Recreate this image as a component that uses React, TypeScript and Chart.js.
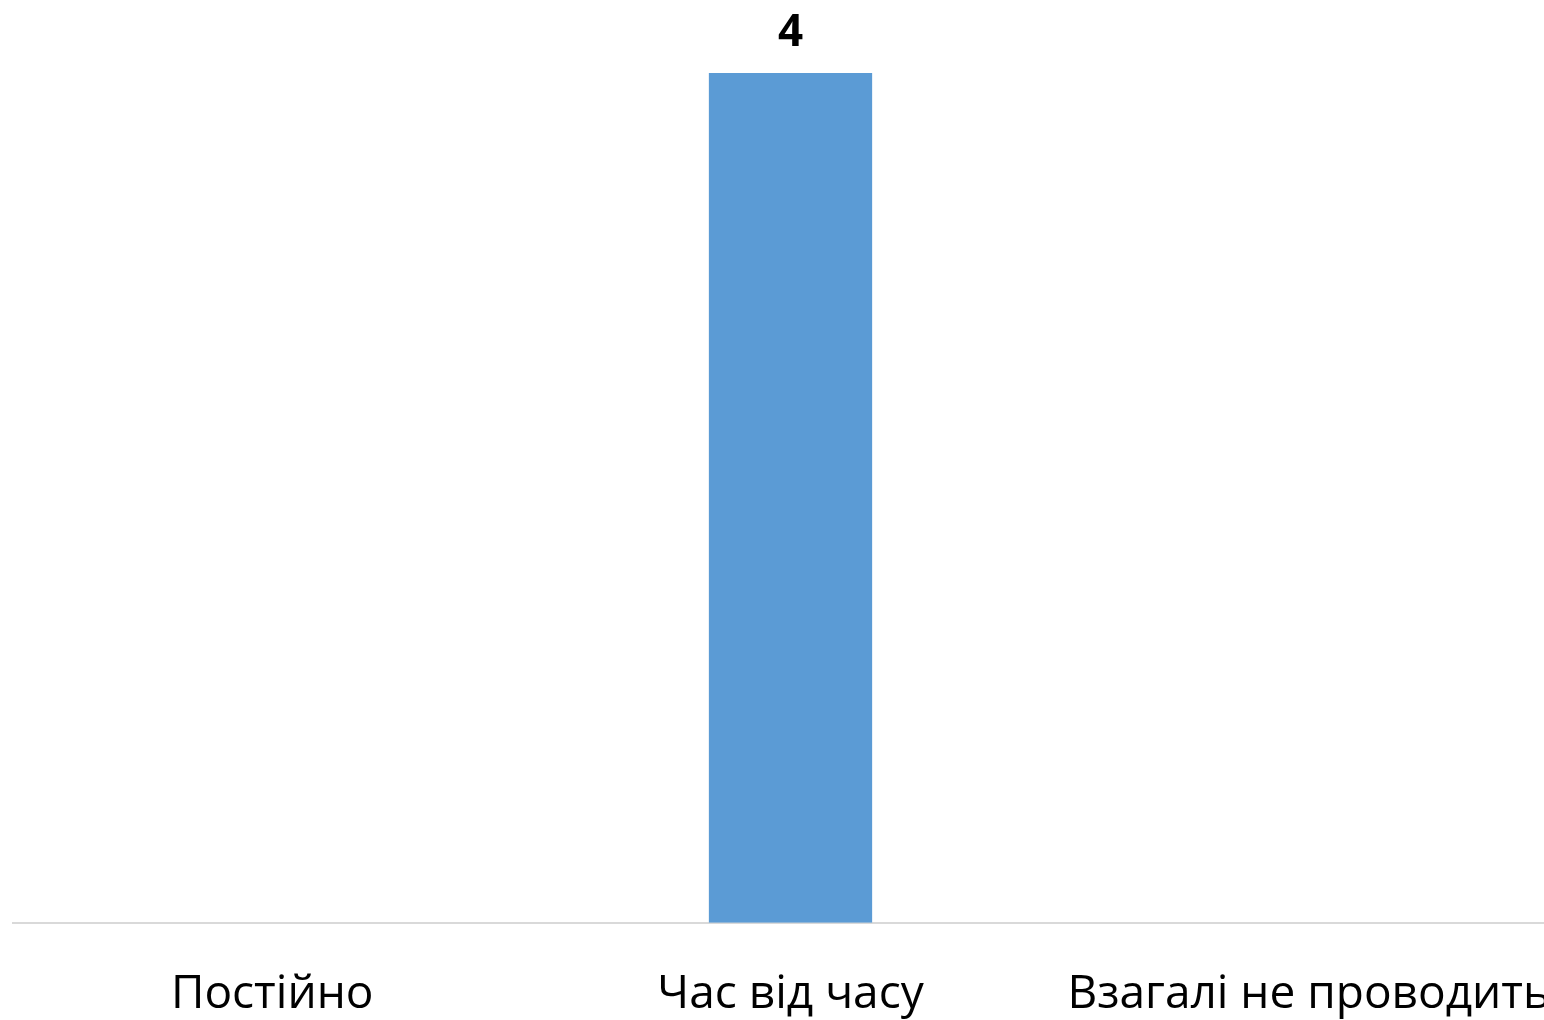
import React, { useEffect, useRef } from "react";
import { Chart, registerables } from "chart.js";

Chart.register(...registerables);

const categories = ["Постійно", "Час від часу", "Взагалі не проводить"];
const values: (number | null)[] = [null, 4, null];

const valueLabelPlugin = {
  id: "valueLabels",
  afterDatasetsDraw(chart: any) {
    const ctx = chart.ctx;
    const meta = chart.getDatasetMeta(0);
    ctx.save();
    ctx.font = "bold 44px 'Open Sans', sans-serif";
    ctx.fillStyle = "#000000";
    ctx.textAlign = "center";
    ctx.textBaseline = "bottom";
    meta.data.forEach((bar: any, i: number) => {
      const v = values[i];
      if (v === null || v === undefined) return;
      ctx.fillText(String(v), bar.x, bar.y - 18);
    });
    ctx.restore();
  },
};

export default function App() {
  const ref = useRef<HTMLCanvasElement>(null);
  useEffect(() => {
    document.body.style.overflow = "hidden";
    document.body.style.margin = "8px 0 0 8px";
    document.documentElement.style.overflow = "hidden";
    if (!ref.current) return;
    const chart = new Chart(ref.current, {
      type: "bar",
      data: {
        labels: categories,
        datasets: [
          {
            data: values,
            backgroundColor: "#5B9BD5",
            categoryPercentage: 1,
            barPercentage: 0.315,
          },
        ],
      },
      options: {
        responsive: true,
        maintainAspectRatio: false,
        animation: false,
        layout: { padding: { top: 65, left: 5, right: 2, bottom: 6 } },
        plugins: { legend: { display: false }, tooltip: { enabled: false } },
        scales: {
          x: {
            afterFit: (scale: any) => {
              scale.paddingLeft = 0;
              scale.paddingRight = 0;
            },
            grid: { display: false, drawTicks: false },
            border: { display: true, color: "#d9d9d9", width: 2 },
            ticks: {
              color: "#000000",
              font: { family: "'Open Sans', sans-serif", size: 46 },
              padding: 44,
              maxRotation: 0,
              autoSkip: false,
            },
          },
          y: {
            display: false,
            min: 0,
            max: 4,
          },
        },
      },
      plugins: [valueLabelPlugin],
    });
    return () => chart.destroy();
  }, []);
  return (
    <div style={{ width: 1536, height: 1012, overflow: "hidden" }}>
      <div style={{ position: "relative", width: 1562, height: 1064 }}>
        <canvas ref={ref} />
      </div>
    </div>
  );
}
